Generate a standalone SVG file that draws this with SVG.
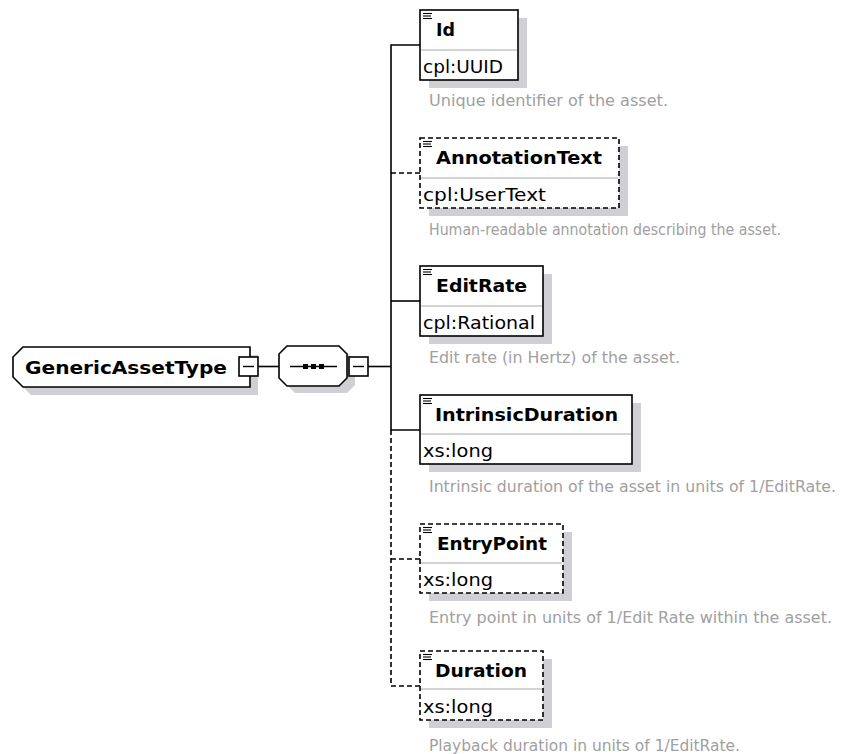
<svg xmlns="http://www.w3.org/2000/svg" width="852" height="754" viewBox="0 0 852 754">
  <style>
    .shadow { fill: #d0d0d4; stroke: none; }
    .box { fill: #ffffff; stroke: #000000; stroke-width: 1.6; }
    .opt { stroke-dasharray: 5 3; }
    .div { stroke: #a8a8a8; stroke-width: 1.2; }
    .icon { stroke: #000000; stroke-width: 1.1; }
    .wire { fill: none; stroke: #000000; stroke-width: 1.6; }
    .wire.opt { stroke-dasharray: 5 3; }
    .title { font-family: "DejaVu Sans", "Liberation Sans", sans-serif; font-weight: bold; font-size: 18px; fill: #000000; }
    .type { font-family: "DejaVu Sans", "Liberation Sans", sans-serif; font-size: 17px; fill: #000000; }
    .desc { font-family: "DejaVu Sans", "Liberation Sans", sans-serif; font-size: 15px; fill: #a0a0a0; }
  </style>
  <defs>
    <g id="menuIcon">
      <line class="icon" x1="0" y1="0.5" x2="9" y2="0.5"/>
      <line class="icon" x1="0" y1="3" x2="8" y2="3"/>
      <line class="icon" x1="0" y1="5.5" x2="9" y2="5.5"/>
    </g>
    <g id="collapse">
      <rect class="box" x="0" y="0" width="19" height="19"/>
      <line x1="4" y1="9.5" x2="15" y2="9.5" stroke="#000" stroke-width="1.4"/>
    </g>
  </defs>

  <rect width="852" height="754" fill="#ffffff"/>

  <!-- connectors -->
  <g id="connectors">
    <path class="wire" d="M258 366.5 H279"/>
    <path class="wire" d="M368 366.5 H391"/>
    <path class="wire" d="M420 45 H391 V430 H420"/>
    <path class="wire" d="M391 301 H420"/>
    <path class="wire opt" d="M420 173 H391"/>
    <path class="wire opt" d="M391 430 V686 H420"/>
    <path class="wire opt" d="M391 559 H420"/>
  </g>

  <!-- complex type -->
  <g id="GenericAssetType">
    <path class="shadow" d="M31 355 H258 V395 H31 L21 385 V365 Z"/>
    <path class="box" d="M23 347 H250 V387 H23 L13 377 V357 Z"/>
    <text class="title" x="25" y="374" textLength="202" lengthAdjust="spacingAndGlyphs">GenericAssetType</text>
    <use href="#collapse" x="239" y="357"/>
  </g>

  <!-- sequence compositor -->
  <g id="sequence">
    <path class="shadow" d="M295 353 H347 L355 361 V385 L347 393 H295 L287 385 V361 Z"/>
    <path class="box" d="M287 346 H339 L347 354 V378 L339 386 H287 L279 378 V354 Z"/>
    <line x1="290" y1="366.5" x2="337" y2="366.5" stroke="#000" stroke-width="1.4"/>
    <rect x="303" y="364" width="5" height="5" fill="#000"/>
    <rect x="311" y="364" width="5" height="5" fill="#000"/>
    <rect x="319" y="364" width="5" height="5" fill="#000"/>
    <use href="#collapse" x="349" y="357"/>
  </g>

  <!-- elements -->
  <g id="Id">
    <rect class="shadow" x="429" y="18" width="98" height="70"/>
    <rect class="box" x="420" y="10" width="98" height="70"/>
    <line class="div" x1="421" y1="50" x2="517" y2="50"/>
    <use href="#menuIcon" x="423" y="13"/>
    <text class="title" x="436" y="36" textLength="19" lengthAdjust="spacingAndGlyphs">Id</text>
    <text class="type" x="423" y="73" textLength="80" lengthAdjust="spacingAndGlyphs">cpl:UUID</text>
    <text class="desc" x="429" y="106" textLength="239" lengthAdjust="spacingAndGlyphs">Unique identifier of the asset.</text>
  </g>

  <g id="AnnotationText">
    <rect class="shadow" x="429" y="146" width="199" height="70"/>
    <rect class="box opt" x="420" y="138" width="199" height="70"/>
    <line class="div" x1="421" y1="178" x2="618" y2="178"/>
    <use href="#menuIcon" x="423" y="141"/>
    <text class="title" x="436" y="164" textLength="166" lengthAdjust="spacingAndGlyphs">AnnotationText</text>
    <text class="type" x="423" y="201" textLength="123" lengthAdjust="spacingAndGlyphs">cpl:UserText</text>
    <text class="desc" x="429" y="235" textLength="352" lengthAdjust="spacingAndGlyphs">Human-readable annotation describing the asset.</text>
  </g>

  <g id="EditRate">
    <rect class="shadow" x="429" y="274" width="123" height="70"/>
    <rect class="box" x="420" y="266" width="123" height="70"/>
    <line class="div" x1="421" y1="306" x2="542" y2="306"/>
    <use href="#menuIcon" x="423" y="269"/>
    <text class="title" x="436" y="292" textLength="91" lengthAdjust="spacingAndGlyphs">EditRate</text>
    <text class="type" x="423" y="329" textLength="112" lengthAdjust="spacingAndGlyphs">cpl:Rational</text>
    <text class="desc" x="429" y="363" textLength="251" lengthAdjust="spacingAndGlyphs">Edit rate (in Hertz) of the asset.</text>
  </g>

  <g id="IntrinsicDuration">
    <rect class="shadow" x="429" y="403" width="212" height="69"/>
    <rect class="box" x="420" y="395" width="212" height="69"/>
    <line class="div" x1="421" y1="434" x2="631" y2="434"/>
    <use href="#menuIcon" x="423" y="398"/>
    <text class="title" x="435" y="421" textLength="183" lengthAdjust="spacingAndGlyphs">IntrinsicDuration</text>
    <text class="type" x="423" y="457" textLength="70" lengthAdjust="spacingAndGlyphs">xs:long</text>
    <text class="desc" x="429" y="492" textLength="407" lengthAdjust="spacingAndGlyphs">Intrinsic duration of the asset in units of 1/EditRate.</text>
  </g>

  <g id="EntryPoint">
    <rect class="shadow" x="429" y="532" width="143" height="69"/>
    <rect class="box opt" x="420" y="524" width="143" height="69"/>
    <line class="div" x1="421" y1="563" x2="562" y2="563"/>
    <use href="#menuIcon" x="423" y="527"/>
    <text class="title" x="437" y="550" textLength="110" lengthAdjust="spacingAndGlyphs">EntryPoint</text>
    <text class="type" x="423" y="586" textLength="70" lengthAdjust="spacingAndGlyphs">xs:long</text>
    <text class="desc" x="429" y="623" textLength="403" lengthAdjust="spacingAndGlyphs">Entry point in units of 1/Edit Rate within the asset.</text>
  </g>

  <g id="Duration">
    <rect class="shadow" x="429" y="659" width="123" height="69"/>
    <rect class="box opt" x="420" y="651" width="123" height="69"/>
    <line class="div" x1="421" y1="689" x2="542" y2="689"/>
    <use href="#menuIcon" x="423" y="654"/>
    <text class="title" x="435" y="677" textLength="92" lengthAdjust="spacingAndGlyphs">Duration</text>
    <text class="type" x="423" y="713" textLength="70" lengthAdjust="spacingAndGlyphs">xs:long</text>
    <text class="desc" x="429" y="751" textLength="311" lengthAdjust="spacingAndGlyphs">Playback duration in units of 1/EditRate.</text>
  </g>
</svg>
